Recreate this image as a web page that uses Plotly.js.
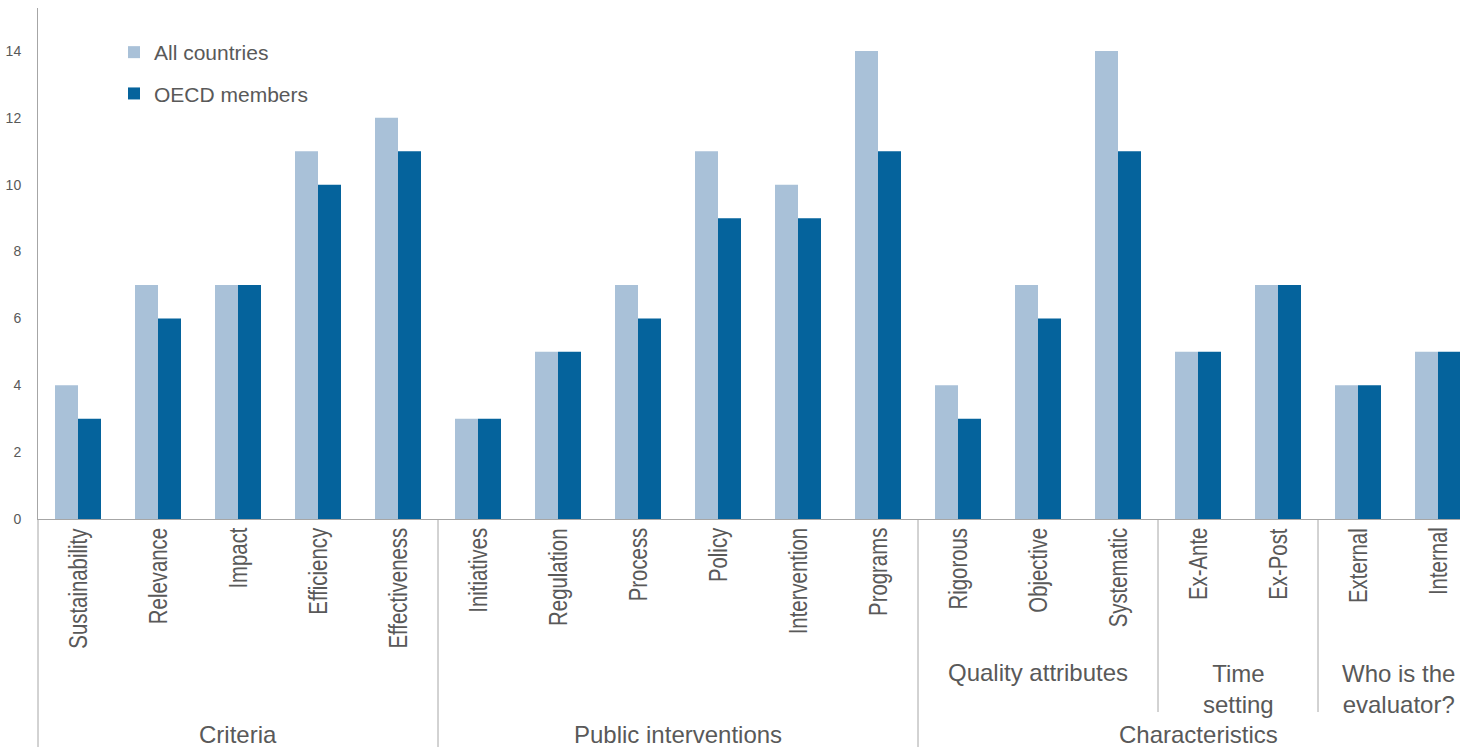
<!DOCTYPE html>
<html>
<head>
<meta charset="utf-8">
<script src="https://cdn.plot.ly/plotly-3.0.1.min.js"></script>
<style>
  html, body { margin: 0; padding: 0; background: #fff; }
  #chart { width: 1460px; height: 747px; }
</style>
</head>
<body>
<div id="chart"></div>
<script>
// Evaluation concepts named in national definitions
const categories = [
  "Sustainability", "Relevance", "Impact", "Efficiency", "Effectiveness",
  "Initiatives", "Regulation", "Process", "Policy", "Intervention", "Programs",
  "Rigorous", "Objective", "Systematic",
  "Ex-Ante", "Ex-Post",
  "External", "Internal"
];
const allCountries = [4, 7, 7, 11, 12, 3, 5, 7, 11, 10, 14, 4, 7, 14, 5, 7, 4, 5];
const oecdMembers  = [3, 6, 7, 10, 11, 3, 5, 6, 9, 9, 11, 3, 6, 11, 5, 7, 4, 5];

// Top-level groups: label, first and last category index
const groups = [
  { label: "Criteria", from: 0, to: 4 },
  { label: "Public interventions", from: 5, to: 10 },
  { label: "Characteristics", from: 11, to: 17 }
];
// Second-level groups inside "Characteristics"
const subGroups = [
  { label: "Quality attributes", from: 11, to: 13 },
  { label: "Time<br>setting", from: 14, to: 15 },
  { label: "Who is the<br>evaluator?", from: 16, to: 17 }
];

const LIGHT = "#A9C1D8";
const DARK = "#05639C";
const GREY_TEXT = "#595959";
const AXIS_GREY = "#A6A6A6";
const FONT = "Arial, Liberation Sans, sans-serif";

const idx = categories.map((_, i) => i);

const traces = [
  {
    type: "bar", name: "All countries", x: idx, y: allCountries,
    marker: { color: LIGHT }, legendgroup: "a", hoverinfo: "x+y"
  },
  {
    type: "bar", name: "OECD members", x: idx, y: oecdMembers,
    marker: { color: DARK }, legendgroup: "b", hoverinfo: "x+y"
  }
];

// Plot geometry in pixels
const W = 1460, H = 747;
const M = { l: 38, r: 0, t: 8, b: 228 };
const plotW = W - M.l - M.r;           // 1422
const plotH = H - M.t - M.b;           // 511
const px = p => -p / plotH;            // pixels below the x axis -> paper y

const annotations = [];
const shapes = [];

// Rotated category labels
categories.forEach((c, i) => {
  annotations.push({
    x: i, xref: "x", y: px(7), yref: "paper",
    text: c, textangle: -90, showarrow: false,
    xanchor: "center", yanchor: "top",
    font: { family: FONT, size: 25, color: GREY_TEXT }
  });
});

// Top-level group labels and separators
groups.forEach(g => {
  annotations.push({
    x: (g.from + g.to) / 2, xref: "x", y: px(215), yref: "paper",
    text: g.label, showarrow: false, xanchor: "center", yanchor: "middle",
    font: { family: FONT, size: 24, color: GREY_TEXT }
  });
});
[4.5, 10.5].forEach(xv => {
  shapes.push({
    type: "line", xref: "x", yref: "paper", x0: xv, x1: xv, y0: 0, y1: px(228),
    line: { color: AXIS_GREY, width: 1 }
  });
});
// Extension of the y-axis line down through the label area
shapes.push({
  type: "line", xref: "paper", yref: "paper", x0: 0, x1: 0, y0: 0, y1: px(228),
  line: { color: AXIS_GREY, width: 1 }
});

// Second-level group labels and separators
subGroups.forEach(g => {
  const twoLines = g.label.indexOf("<br>") >= 0;
  annotations.push({
    x: (g.from + g.to) / 2, xref: "x", y: px(twoLines ? 169.5 : 153), yref: "paper",
    text: g.label, showarrow: false, xanchor: "center", yanchor: "middle",
    font: { family: FONT, size: 24, color: GREY_TEXT }
  });
});
[13.5, 15.5].forEach(xv => {
  shapes.push({
    type: "line", xref: "x", yref: "paper", x0: xv, x1: xv, y0: 0, y1: px(193),
    line: { color: AXIS_GREY, width: 1 }
  });
});

const layout = {
  width: W, height: H,
  margin: M,
  paper_bgcolor: "#fff", plot_bgcolor: "#fff",
  barmode: "group", bargap: 0.425, bargroupgap: 0,
  showlegend: true,
  legend: {
    x: (114 - M.l) / plotW, xref: "paper", xanchor: "left",
    y: 1 - 24 / plotH, yanchor: "top",
    traceorder: "grouped", tracegroupgap: 11,
    font: { family: FONT, size: 21, color: GREY_TEXT },
    bgcolor: "rgba(0,0,0,0)", borderwidth: 0
  },
  xaxis: {
    range: [-0.5, -0.5 + plotW / 80],
    showticklabels: false, ticks: "", showgrid: false, zeroline: false,
    showline: true, linecolor: AXIS_GREY, linewidth: 1, fixedrange: true
  },
  yaxis: {
    range: [0, plotH / 33.43],
    tickvals: [0, 2, 4, 6, 8, 10, 12, 14],
    ticks: "", showgrid: false, zeroline: false,
    showline: true, linecolor: AXIS_GREY, linewidth: 1,
    ticklabelstandoff: 13,
    tickfont: { family: FONT, size: 14, color: GREY_TEXT },
    fixedrange: true
  },
  annotations: annotations,
  shapes: shapes
};

const gd = document.getElementById("chart");
Plotly.newPlot(gd, traces, layout, { displayModeBar: false, staticPlot: true }).then(() => {
  // Category labels use a condensed letterform: squeeze each one along its
  // reading direction, keeping the end nearest the axis in place.
  gd.querySelectorAll("text.annotation-text").forEach(t => {
    if (categories.indexOf(t.textContent) < 0) return;
    const b = t.getBBox();
    const ax = b.x + b.width, ay = b.y + b.height / 2;
    const prev = t.getAttribute("transform") || "";
    t.setAttribute("transform",
      prev + " translate(" + ax + "," + ay + ") scale(0.815,1) translate(" + (-ax) + "," + (-ay) + ")");
  });
});
</script>
</body>
</html>
